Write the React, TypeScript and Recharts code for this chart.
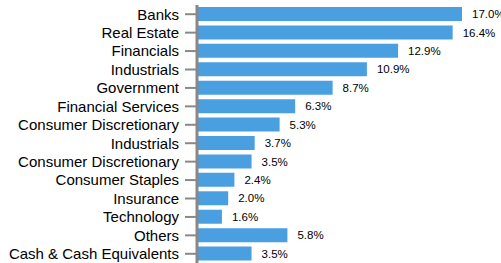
import React from "react";
import { BarChart, Bar, XAxis, YAxis, LabelList } from "recharts";

const categories = [
  "Banks",
  "Real Estate",
  "Financials",
  "Industrials",
  "Government",
  "Financial Services",
  "Consumer Discretionary",
  "Industrials",
  "Consumer Discretionary",
  "Consumer Staples",
  "Insurance",
  "Technology",
  "Others",
  "Cash & Cash Equivalents",
];
const values = [17.0, 16.4, 12.9, 10.9, 8.7, 6.3, 5.3, 3.7, 3.5, 2.4, 2.0, 1.6, 5.8, 3.5];

const data = categories.map((name, i) => ({ id: String(i), name, value: values[i] }));

export default function App() {
  return (
    <div style={{ position: "absolute", left: 0, top: 0 }}>
      <BarChart
        width={501}
        height={263}
        data={data}
        layout="vertical"
        margin={{ top: 5, right: 39, bottom: 0, left: 0 }}
        barCategoryGap={4}
      >
        <XAxis type="number" domain={[0, 17]} hide />
        <YAxis
          type="category"
          dataKey="id"
          width={197}
          tickFormatter={(v: string) => categories[Number(v)]}
          axisLine={{ stroke: "#888", strokeWidth: 3 }}
          tickLine={{ stroke: "#888", strokeWidth: 2 }}
          tickSize={12}
          tickMargin={6}
          tick={{ fill: "#000", fontSize: 15, fontFamily: "Liberation Sans, Arial, sans-serif" }}
          interval={0}
        />
        <Bar dataKey="value" fill="#4a9fe0" isAnimationActive={false} barSize={14}>
          <LabelList
            dataKey="value"
            position="right"
            offset={10}
            formatter={(v: number) => `${v.toFixed(1)}%`}
            style={{ fill: "#000", fontSize: 11.5, fontFamily: "Liberation Sans, Arial, sans-serif" }}
          />
        </Bar>
      </BarChart>
    </div>
  );
}
